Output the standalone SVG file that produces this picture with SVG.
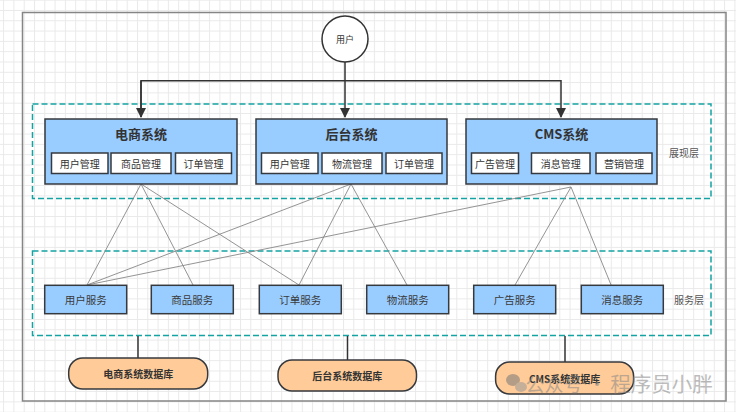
<svg xmlns="http://www.w3.org/2000/svg" width="736" height="412" viewBox="0 0 736 412">
<defs>
<pattern id="grid" width="10.3" height="10.3" patternUnits="userSpaceOnUse" x="23.7" y="10">
<path d="M0 0.5 H10.3 M0.5 0 V10.3" stroke="#e9e9e9" stroke-width="1" fill="none"/>
</pattern>
<marker id="arr" markerWidth="10" markerHeight="10" refX="9" refY="5" orient="auto" markerUnits="userSpaceOnUse">
<path d="M0 0 L10 5 L0 10 Z" fill="#333"/>
</marker>
<style>
text{font-family:"Noto Sans CJK SC","Liberation Sans",sans-serif;fill:#333;text-anchor:middle;dominant-baseline:central}
.sys{fill:#99ccff;stroke:#36393d;stroke-width:1.5}
.sub{fill:#fff;stroke:#36393d;stroke-width:1.5}
.svc{fill:#99ccff;stroke:#36393d;stroke-width:1.5}
.db{fill:#ffcc99;stroke:#36393d;stroke-width:1.5}
.layer{fill:none;stroke:#14a3a3;stroke-width:1.5;stroke-dasharray:6 3}
.title{font-size:13px;font-weight:bold}
.st{font-size:10px}
.sv{font-size:10.5px;fill:#3a3a3a}
.lbl{font-size:10px;fill:#555}
.dbt{font-size:10px;font-weight:bold}
.thin{stroke:#888;stroke-width:0.9;fill:none}
.conn{stroke:#333;stroke-width:1.5;fill:none}
</style>
</defs>
<rect width="736" height="412" fill="#fff"/>
<rect width="736" height="412" fill="url(#grid)"/>
<rect x="22.5" y="12.5" width="703.5" height="388.5" fill="none" stroke="#858585" stroke-width="1.5"/>

<g id="layer-presentation">
<rect class="layer" x="32.5" y="104" width="678.5" height="94.5"/>
<text class="lbl" x="684" y="152">展现层</text>
</g>
<g id="layer-service">
<rect class="layer" x="32.5" y="251" width="678.5" height="84.5"/>
<text class="lbl" x="689" y="299">服务层</text>
</g>

<g id="connectors">
<path class="conn" d="M345 62 V117" marker-end="url(#arr)"/>
<path class="conn" d="M141 117 V80.7 H561 V117" marker-end="url(#arr)"/>
<path class="conn" d="M141 80.7 V117" marker-end="url(#arr)"/>
<path class="thin" d="M141 184 L87 285 M141 184 L193 285 M141 184 L299 285"/>
<path class="thin" d="M351 184 L87 285 M351 184 L299 285 M351 184 L407 285"/>
<path class="thin" d="M571 187 L87 285 M571 187 L515 285 M571 187 L616 297"/>
<path class="conn" d="M138 336 V358"/>
<path class="conn" d="M347.5 336 V360"/>
<path class="conn" d="M565 336 V362"/>
</g>

<g id="user">
<circle cx="345" cy="39" r="23" fill="#fff" stroke="#333" stroke-width="1.5"/>
<text x="345" y="39" style="font-size:9px">用户</text>
</g>

<g id="sys-ecommerce">
<rect class="sys" x="45" y="119" width="192" height="65"/>
<text class="title" x="141" y="133">电商系统</text>
<rect class="sub" x="51.5" y="153" width="56.5" height="20.5"/>
<text class="st" x="79.7" y="163.3">用户管理</text>
<rect class="sub" x="111" y="153" width="60" height="20.5"/>
<text class="st" x="141" y="163.3">商品管理</text>
<rect class="sub" x="175.5" y="153" width="56" height="20.5"/>
<text class="st" x="203.5" y="163.3">订单管理</text>
</g>

<g id="sys-backend">
<rect class="sys" x="256" y="119" width="191" height="65"/>
<text class="title" x="351.5" y="133">后台系统</text>
<rect class="sub" x="261.5" y="153" width="56.5" height="20.5"/>
<text class="st" x="289.7" y="163.3">用户管理</text>
<rect class="sub" x="322" y="153" width="60" height="20.5"/>
<text class="st" x="352" y="163.3">物流管理</text>
<rect class="sub" x="386" y="153" width="56" height="20.5"/>
<text class="st" x="414" y="163.3">订单管理</text>
</g>

<g id="sys-cms">
<rect class="sys" x="466" y="119" width="191" height="65"/>
<text class="title" x="561.5" y="133">CMS系统</text>
<rect class="sub" x="471.5" y="153" width="47" height="20.5"/>
<text class="st" x="495" y="163.3">广告管理</text>
<rect class="sub" x="531.5" y="153" width="58.5" height="20.5"/>
<text class="st" x="560.7" y="163.3">消息管理</text>
<rect class="sub" x="596" y="153" width="56" height="20.5"/>
<text class="st" x="624" y="163.3">营销管理</text>
</g>

<g id="svc-user"><rect class="svc" x="44.7" y="285.3" width="82" height="28.4"/><text class="sv" x="85.7" y="299.5">用户服务</text></g>
<g id="svc-goods"><rect class="svc" x="151.3" y="285.3" width="82" height="28.4"/><text class="sv" x="192.3" y="299.5">商品服务</text></g>
<g id="svc-order"><rect class="svc" x="259.3" y="285.3" width="82" height="28.4"/><text class="sv" x="300.3" y="299.5">订单服务</text></g>
<g id="svc-logistics"><rect class="svc" x="366.7" y="285.3" width="82" height="28.4"/><text class="sv" x="407.7" y="299.5">物流服务</text></g>
<g id="svc-ad"><rect class="svc" x="473.7" y="285.3" width="82" height="28.4"/><text class="sv" x="514.7" y="299.5">广告服务</text></g>
<g id="svc-msg"><rect class="svc" x="581.3" y="285.3" width="82" height="28.4"/><text class="sv" x="622.3" y="299.5">消息服务</text></g>

<g id="db-ecommerce"><rect class="db" x="68.7" y="358" width="139" height="31" rx="14"/><text class="dbt" x="138.2" y="373.5">电商系统数据库</text></g>
<g id="db-backend"><rect class="db" x="278" y="360" width="138.5" height="31" rx="14"/><text class="dbt" x="347.2" y="375.5">后台系统数据库</text></g>
<g id="db-cms"><rect class="db" x="495.6" y="362" width="138" height="32" rx="14"/><text class="dbt" x="564.6" y="378">CMS系统数据库</text></g>

<g id="watermark" opacity="0.55">
<ellipse cx="513" cy="380" rx="7" ry="6" fill="#777"/>
<ellipse cx="521" cy="387" rx="6" ry="5" fill="#999"/>
<text x="554" y="383" style="font-size:19px;fill:#888">公众号</text>
<text x="597" y="383" style="font-size:19px;fill:#888">·</text>
<text x="661.5" y="383" style="font-size:20.5px;fill:#888">程序员小胖</text>
</g>
</svg>
